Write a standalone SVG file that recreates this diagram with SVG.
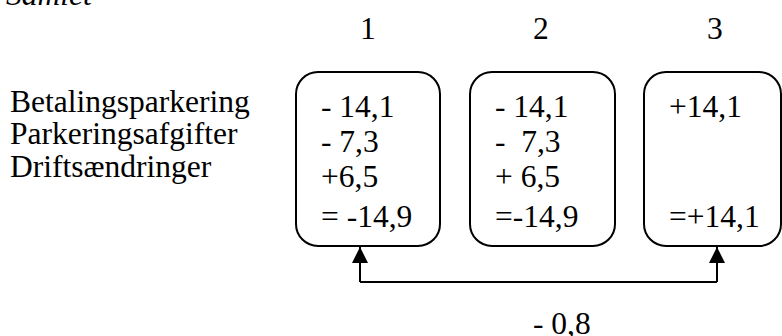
<svg xmlns="http://www.w3.org/2000/svg" width="782" height="336" viewBox="0 0 782 336" font-family="Liberation Serif, serif">
<defs>
<marker id="ah" viewBox="0 0 16 16" refX="16" refY="8" markerWidth="16" markerHeight="16" markerUnits="userSpaceOnUse" orient="auto">
<path d="M0,0 L16,8 L0,16 Z" fill="#000"/>
</marker>
</defs>
<text x="6" y="5" style="font-family:'Liberation Serif',serif;font-size:31.5px;font-style:italic">Samlet</text>
<g id="headers">
<text x="360" y="39" style="font-family:'Liberation Serif',serif;font-size:31.5px">1</text>
<text x="533" y="39" style="font-family:'Liberation Serif',serif;font-size:31.5px">2</text>
<text x="707" y="39" style="font-family:'Liberation Serif',serif;font-size:31.5px">3</text>
</g>
<g id="labels">
<text x="10" y="112" style="font-family:'Liberation Serif',serif;font-size:31.5px">Betalingsparkering</text>
<text x="10" y="144" style="font-family:'Liberation Serif',serif;font-size:31.5px">Parkeringsafgifter</text>
<text x="10" y="177" style="font-family:'Liberation Serif',serif;font-size:31.5px">Driftsændringer</text>
</g>
<g id="box1">
<rect x="296" y="72" width="144" height="174" rx="22" fill="#fff" stroke="#000" stroke-width="2"/>
<text x="321" y="117" style="font-family:'Liberation Serif',serif;font-size:31.5px">- 14,1</text>
<text x="321" y="152" style="font-family:'Liberation Serif',serif;font-size:31.5px">- 7,3</text>
<text x="321" y="187" style="font-family:'Liberation Serif',serif;font-size:31.5px">+6,5</text>
<text x="321" y="227" style="font-family:'Liberation Serif',serif;font-size:31.5px">= -14,9</text>
</g>
<g id="box2">
<rect x="470" y="72" width="145" height="174" rx="22" fill="#fff" stroke="#000" stroke-width="2"/>
<text x="495" y="117" style="font-family:'Liberation Serif',serif;font-size:31.5px">- 14,1</text>
<text x="495" y="152" style="font-family:'Liberation Serif',serif;font-size:31.5px;white-space:pre" xml:space="preserve">-  7,3</text>
<text x="495" y="187" style="font-family:'Liberation Serif',serif;font-size:31.5px">+ 6,5</text>
<text x="495" y="227" style="font-family:'Liberation Serif',serif;font-size:31.5px">=-14,9</text>
</g>
<g id="box3">
<rect x="644" y="72" width="137" height="174" rx="22" fill="#fff" stroke="#000" stroke-width="2"/>
<text x="669" y="117" style="font-family:'Liberation Serif',serif;font-size:31.5px">+14,1</text>
<text x="669" y="227" style="font-family:'Liberation Serif',serif;font-size:31.5px">=+14,1</text>
</g>
<g id="connectors" fill="none" stroke="#000" stroke-width="2">
<path d="M360,282 L717,282"/>
<path d="M360,282 L360,247" marker-end="url(#ah)"/>
<path d="M717,282 L717,247" marker-end="url(#ah)"/>
</g>
<text x="533" y="334" style="font-family:'Liberation Serif',serif;font-size:31.5px">- 0,8</text>
</svg>
